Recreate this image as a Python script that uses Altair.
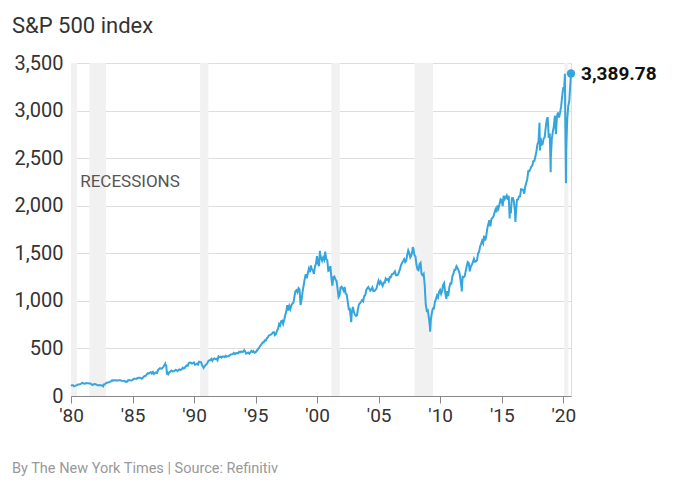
import altair as alt
import pandas as pd

FONT = "Roboto"

# Month-end closes, Jan 1980 .. Jul 2020
closes_1980s = [
    114, 114, 102, 106, 111, 114, 122, 122, 125, 127, 140, 136,   # 1980
    130, 131, 136, 133, 133, 131, 131, 123, 116, 122, 126, 123,   # 1981
    120, 113, 112, 116, 112, 110, 107, 120, 120, 134, 139, 141,   # 1982
    145, 148, 153, 164, 162, 168, 163, 164, 166, 164, 166, 165,   # 1983
    163, 157, 159, 160, 151, 153, 151, 167, 166, 166, 164, 167,   # 1984
    180, 181, 181, 180, 190, 192, 191, 189, 182, 190, 202, 211,   # 1985
    212, 227, 239, 235, 247, 251, 236, 253, 231, 244, 249, 242,   # 1986
    274, 284, 292, 288, 290, 304, 319, 330, 322, 252, 230, 247,   # 1987
    257, 268, 259, 261, 262, 274, 272, 262, 272, 279, 274, 278,   # 1988
    297, 289, 295, 310, 321, 318, 346, 351, 349, 340, 346, 353,   # 1989
]
closes_1990s = [
    329, 332, 340, 331, 361, 358, 356, 323, 306, 304, 322, 330,   # 1990
    344, 367, 375, 375, 390, 371, 388, 395, 388, 392, 375, 417,   # 1991
    409, 413, 404, 415, 415, 408, 424, 414, 418, 419, 431, 436,   # 1992
    439, 443, 452, 440, 450, 451, 448, 464, 459, 468, 462, 466,   # 1993
    482, 467, 446, 451, 457, 444, 458, 475, 463, 472, 454, 459,   # 1994
    470, 487, 501, 515, 533, 545, 562, 562, 584, 582, 605, 616,   # 1995
    636, 640, 646, 654, 669, 671, 640, 652, 687, 705, 757, 741,   # 1996
    786, 791, 757, 801, 848, 885, 954, 899, 947, 915, 955, 970,   # 1997
    980, 1049, 1102, 1112, 1091, 1134, 1121, 957, 1017, 1099, 1164, 1229,  # 1998
    1280, 1238, 1286, 1335, 1302, 1373, 1329, 1320, 1283, 1363, 1389, 1469,  # 1999
]
closes_2000s = [
    1394, 1366, 1499, 1452, 1421, 1455, 1431, 1518, 1437, 1429, 1315, 1320,  # 2000
    1366, 1240, 1160, 1249, 1256, 1224, 1211, 1134, 1041, 1060, 1139, 1148,  # 2001
    1130, 1107, 1147, 1076, 1067, 990, 912, 916, 815, 886, 936, 880,         # 2002
    856, 841, 848, 917, 964, 975, 990, 1008, 996, 1051, 1058, 1112,          # 2003
    1131, 1145, 1126, 1107, 1121, 1141, 1102, 1104, 1115, 1130, 1174, 1212,  # 2004
    1181, 1204, 1181, 1157, 1192, 1191, 1234, 1220, 1229, 1207, 1249, 1248,  # 2005
    1280, 1281, 1295, 1311, 1270, 1270, 1277, 1304, 1336, 1378, 1401, 1418,  # 2006
    1438, 1407, 1421, 1482, 1531, 1503, 1455, 1474, 1527, 1549, 1481, 1468,  # 2007
    1379, 1331, 1323, 1386, 1400, 1280, 1267, 1283, 1166, 969, 896, 903,     # 2008
    826, 735, 798, 873, 919, 919, 987, 1021, 1057, 1036, 1096, 1115,         # 2009
]
closes_2010s = [
    1074, 1104, 1169, 1187, 1089, 1031, 1102, 1049, 1141, 1183, 1181, 1258,  # 2010
    1286, 1327, 1326, 1364, 1345, 1321, 1292, 1219, 1131, 1253, 1247, 1258,  # 2011
    1312, 1366, 1408, 1398, 1310, 1362, 1379, 1407, 1441, 1412, 1416, 1426,  # 2012
    1498, 1515, 1569, 1598, 1631, 1606, 1686, 1633, 1682, 1757, 1806, 1848,  # 2013
    1783, 1859, 1872, 1884, 1924, 1960, 1931, 2003, 1972, 2018, 2068, 2059,  # 2014
    1995, 2105, 2068, 2086, 2107, 2063, 2104, 1972, 1920, 2079, 2080, 2044,  # 2015
    1940, 1932, 2060, 2065, 2097, 2099, 2174, 2171, 2168, 2126, 2199, 2239,  # 2016
    2279, 2364, 2363, 2384, 2412, 2423, 2470, 2472, 2519, 2575, 2648, 2674,  # 2017
    2824, 2714, 2641, 2648, 2705, 2718, 2816, 2902, 2914, 2712, 2760, 2507,  # 2018
    2704, 2784, 2834, 2946, 2752, 2942, 2980, 2926, 2977, 3038, 3141, 3231,  # 2019
]
closes_2020 = [3226, 2954, 2585, 2912, 3044, 3100, 3271]

# Intra-month highs and lows visible as spikes in the chart
extreme_dates = [
    "1980-01-02", "1982-08-12", "1987-08-25", "1987-10-19", "1990-10-11",
    "2000-03-24", "2002-10-09", "2007-10-09", "2009-03-09", "2010-07-02",
    "2011-10-03", "2015-08-25", "2016-02-11", "2018-01-26", "2018-02-08",
    "2018-09-20", "2018-12-24", "2020-02-19", "2020-03-23", "2020-08-18",
]
extreme_values = [
    106, 102, 337, 225, 295,
    1527, 777, 1565, 677, 1022,
    1099, 1867, 1829, 2873, 2581,
    2930, 2351, 3386, 2237, 3389.78,
]

recession_start = ["1980-01-01", "1981-07-01", "1990-07-01", "2001-03-01", "2007-12-01", "2020-02-01"]
recession_end = ["1980-07-01", "1982-11-01", "1991-03-01", "2001-11-01", "2009-06-01", "2020-06-01"]

x_tick_years = [1980, 1985, 1990, 1995, 2000, 2005, 2010, 2015, 2020]
y_ticks = [0, 500, 1000, 1500, 2000, 2500, 3000, 3500]

last_label = "3,389.78"
footer_text = "By The New York Times | Source: Refinitiv"
title_text = "S&P 500 index"

# ---- build tables ----
all_closes = closes_1980s + closes_1990s + closes_2000s + closes_2010s + closes_2020
month_dates = []
for i in range(len(all_closes)):
    y = 1980 + i // 12
    m = i % 12 + 1
    month_dates.append(f"{y}-{m:02d}-28")

series = pd.DataFrame({
    "date": pd.to_datetime(month_dates + extreme_dates),
    "value": all_closes + extreme_values,
}).sort_values("date").reset_index(drop=True)

last = series.iloc[[-1]].copy()
last["label"] = last_label

rec = pd.DataFrame({"start": pd.to_datetime(recession_start), "end": pd.to_datetime(recession_end)})
rec_label = pd.DataFrame({"date": pd.to_datetime(["1980-10-01"]), "value": [2250], "t": ["RECESSIONS"]})
footer = pd.DataFrame({"t": [footer_text]})

x_domain = [pd.Timestamp("1980-01-01").isoformat(), pd.Timestamp("2020-08-18").isoformat()]
x_scale = alt.Scale(domain=x_domain, nice=False)
y_scale = alt.Scale(domain=[0, 3500], nice=False)
tick_values = [alt.DateTime(year=y, month=1, date=1) for y in x_tick_years]

x_axis = alt.Axis(values=tick_values,
                  labelExpr="\"'\" + timeFormat(datum.value, '%y')",
                  labelFont=FONT, labelFontSize=19, labelColor="#333",
                  labelPadding=3, tickSize=7, tickColor="#888",
                  labelFlush=False, labelOverlap=False,
                  domainColor="#888", grid=False)
y_axis = alt.Axis(values=y_ticks,
                  labelExpr="format(datum.value, ',')",
                  labelFont=FONT, labelFontSize=20, labelColor="#333",
                  labelPadding=8, ticks=False, domain=False,
                  gridColor="#dedede")


def xenc(field):
    return alt.X(field, scale=x_scale, axis=x_axis, title=None)


def yenc(field):
    return alt.Y(field, scale=y_scale, axis=y_axis, title=None)


bands = alt.Chart(rec).mark_rect(color="#f1f1f1").encode(
    x=xenc("start:T"),
    x2="end:T",
    y=alt.value(0),
    y2=alt.value(333),
)

line = alt.Chart(series).mark_line(color="#35a5dd", strokeWidth=2).encode(
    x=xenc("date:T"), y=yenc("value:Q"))

dot = alt.Chart(last).mark_point(filled=True, size=70, color="#35a5dd", opacity=1).encode(
    x=xenc("date:T"), y=yenc("value:Q"))

dot_label = alt.Chart(last).mark_text(
    align="left", baseline="middle", dx=10, dy=1, font=FONT, fontSize=19,
    fontWeight="bold", color="#111").encode(
    x=xenc("date:T"), y=yenc("value:Q"), text="label:N")

rec_text = alt.Chart(rec_label).mark_text(
    align="left", baseline="middle", font=FONT, fontSize=17, color="#555").encode(
    x=xenc("date:T"), y=yenc("value:Q"), text="t:N")

foot = alt.Chart(footer).mark_text(
    align="left", baseline="middle", font=FONT, fontSize=14.5, color="#999").encode(
    x=alt.value(-59), y=alt.value(406), text="t:N")

chart = alt.layer(bands, line, rec_text, dot, dot_label, foot).properties(
    width=500, height=333,
    padding={"left": 71, "top": 63, "right": 129, "bottom": 98},
    autosize=alt.AutoSizeParams(type="none"),
    title=alt.TitleParams(title_text, anchor="start", frame="group", dx=-59,
                          font=FONT, fontSize=22, fontWeight="normal",
                          color="#333", offset=15),
).configure_view(strokeWidth=0).configure(background="white")

chart.save("out.html", embed_options={"renderer": "svg", "actions": False})
